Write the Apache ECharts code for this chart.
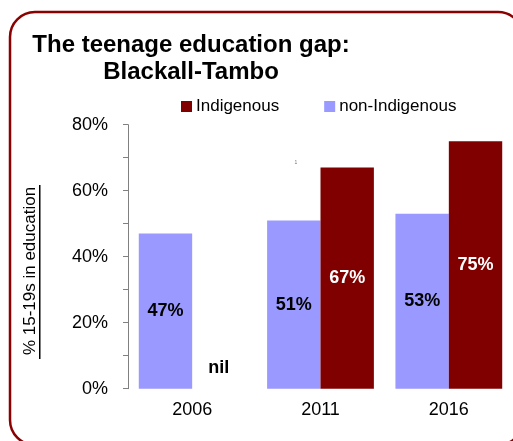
<!DOCTYPE html>
<html>
<head>
<meta charset="utf-8">
<script src="https://cdn.jsdelivr.net/npm/echarts@6/dist/echarts.min.js"></script>
<style>
  html, body { margin: 0; padding: 0; background: #fff; }
  #chart { width: 513px; height: 441px; }
</style>
</head>
<body>
<div id="chart"></div>
<script>
// Census years and share of 15-19 year olds in education (%)
const years = ['2006', '2011', '2016'];
const nonIndigenous = [47, 51, 53];
const indigenous = [0, 67, 75];   // 0 = nil in 2006
const yTicks = { min: 0, max: 80, step: 20 };

const FONT = '"Liberation Sans", Arial, sans-serif';
const chart = echarts.init(document.getElementById('chart'), null, { renderer: 'canvas' });

const labelText = p => (p.value === 0 ? 'nil' : p.value + '%');

chart.setOption({
  animation: false,
  backgroundColor: '#fff',
  title: {
    text: 'The teenage education gap:\nBlackall-Tambo',
    left: 186,
    top: 27,
    textAlign: 'center',
    textStyle: {
      fontFamily: FONT, fontSize: 24, fontWeight: 'bold', color: '#000',
      lineHeight: 27, align: 'center'
    }
  },
  legend: {
    data: ['Indigenous', 'non-Indigenous'],
    left: 181,
    top: 98,
    padding: 0,
    icon: 'rect',
    itemWidth: 11,
    itemHeight: 11,
    itemGap: 45,
    textStyle: { fontFamily: FONT, fontSize: 17, color: '#000', padding: [0, 0, 0, -1] }
  },
  grid: { left: 128, right: 0, top: 124.7, bottom: 52.3 },
  xAxis: {
    type: 'category',
    data: years,
    axisLine: { show: false },
    axisTick: { show: false },
    axisLabel: { fontFamily: FONT, fontSize: 18, color: '#000', margin: 12 }
  },
  yAxis: {
    type: 'value',
    min: yTicks.min,
    max: yTicks.max,
    interval: yTicks.step,
    axisLine: { show: true, lineStyle: { color: '#808080', width: 1 } },
    axisTick: { show: true, length: 5, lineStyle: { color: '#808080' } },
    minorTick: { show: true, splitNumber: 2, length: 5, lineStyle: { color: '#808080' } },
    splitLine: { show: false },
    axisLabel: { formatter: '{value}%', fontFamily: FONT, fontSize: 18, color: '#000', margin: 20 }
  },
  series: [
    {
      name: 'non-Indigenous',
      type: 'bar',
      data: nonIndigenous,
      barGap: '0%',
      barCategoryGap: '16.8%',
      itemStyle: { color: '#9999FF' },
      label: {
        show: true, position: 'inside', formatter: labelText,
        fontFamily: FONT, fontSize: 18, fontWeight: 'bold', color: '#000'
      }
    },
    {
      name: 'Indigenous',
      type: 'bar',
      data: indigenous.map(v => v === 0
        ? { value: v, label: { position: 'top', distance: 12, color: '#000' } }
        : v),
      itemStyle: { color: '#800000' },
      label: {
        show: true, position: 'inside', formatter: labelText,
        fontFamily: FONT, fontSize: 18, fontWeight: 'bold', color: '#fff'
      }
    }
  ],
  graphic: [
    {
      type: 'rect',
      shape: { x: 10, y: 12, width: 513, height: 433, r: 25 },
      style: { fill: 'none', stroke: '#8B0000', lineWidth: 2.5 },
      silent: true
    },
    {
      type: 'text',
      x: 30, y: 271,
      rotation: Math.PI / 2,
      style: {
        text: '% 15-19s in education',
        font: '17px ' + FONT,
        fill: '#000',
        align: 'center',
        verticalAlign: 'middle'
      }
    },
    {
      type: 'rect',
      shape: { x: 39, y: 185, width: 1.5, height: 174 },
      style: { fill: '#000' }
    },
    {
      type: 'text',
      x: 296, y: 163,
      style: { text: '1', font: '5px ' + FONT, fill: '#777', align: 'center', verticalAlign: 'middle' }
    }
  ]
});
</script>
</body>
</html>
